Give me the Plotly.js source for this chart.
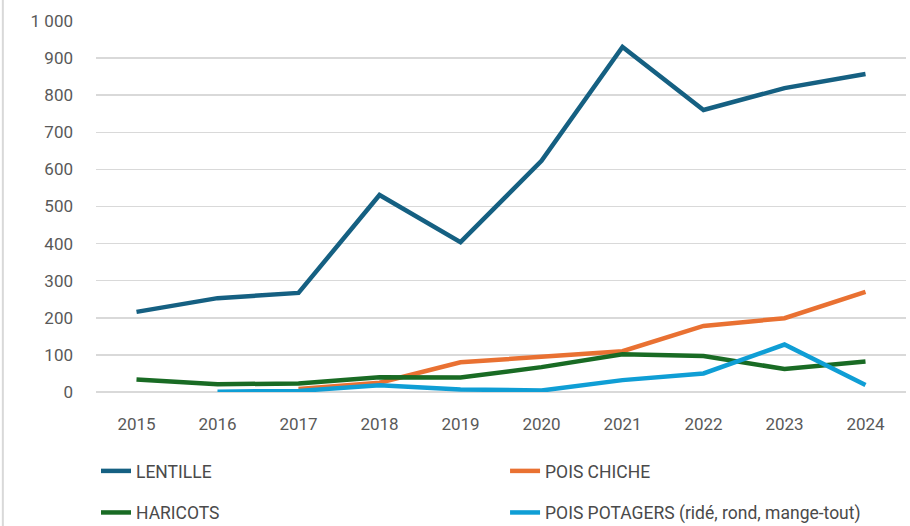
<!DOCTYPE html>
<html>
<head>
<meta charset="utf-8">
<script src="https://cdn.plot.ly/plotly-3.0.1.min.js"></script>
<style>html,body{margin:0;padding:0;background:#fff}#chart{width:910px;height:526px}</style>
</head>
<body>
<div id="chart"></div>
<script>
const years = ["2015","2016","2017","2018","2019","2020","2021","2022","2023","2024"];
const lentille = [216, 253, 267, 531, 404, 623, 930, 760, 819, 857];
const poisChiche = [null, null, 8, 25, 80, 96, 110, 178, 199, 270];
const haricots = [34, 21, 23, 40, 39, 67, 102, 97, 62, 82];
const poisPotagers = [null, 1, 3, 18, 7, 4, 32, 50, 128, 19];
const seriesNames = ["LENTILLE", "POIS CHICHE", "HARICOTS", "POIS POTAGERS (ridé, rond, mange-tout)"];
const yTicks = [0,100,200,300,400,500,600,700,800,900,1000];

const colors = ["#156082", "#E97132", "#196B24", "#0F9ED5"];
const legendIds = ["legend", "legend2", "legend3", "legend4"];
const data = [lentille, poisChiche, haricots, poisPotagers].map((vals, i) => ({
  type: "scatter", mode: "lines",
  x: years, y: vals, name: seriesNames[i], legend: legendIds[i],
  line: {color: colors[i], width: 4.5, shape: "linear"},
  hoverinfo: "skip"
}));

const legendFont = {family: "Roboto, 'Liberation Sans', sans-serif", size: 17.5, color: "#4a4a4a"};
function leg(x, y) {
  return {orientation: "h", x: x, xanchor: "left", y: y, yanchor: "middle",
          font: legendFont, bgcolor: "rgba(0,0,0,0)"};
}
const layout = {
  width: 910, height: 526,
  margin: {l: 96, r: 4, t: 21, b: 134, autoexpand: false},
  paper_bgcolor: "#fff", plot_bgcolor: "#fff",
  separators: ", ",
  font: {family: "Roboto, 'Liberation Sans', sans-serif", color: "#595959"},
  xaxis: {
    type: "category", range: [-0.5, 9.5], automargin: false,
    showgrid: false, showline: false, zeroline: false,
    ticks: "", ticklabelstandoff: 20, tickfont: {size: 17, color: "#595959"},
    fixedrange: true
  },
  yaxis: {
    range: [0, 1000], tickvals: yTicks, separatethousands: true, automargin: false,
    showgrid: true, gridcolor: "#d9d9d9", gridwidth: 1.5,
    zeroline: true, zerolinecolor: "#d9d9d9", zerolinewidth: 1.5,
    showline: false, ticks: "", ticklabelstandoff: 22,
    tickfont: {size: 17, color: "#595959"},
    fixedrange: true
  },
  showlegend: true,
  legend: leg(0.0, -0.213),
  legend2: leg(0.505, -0.213),
  legend3: leg(0.0, -0.325),
  legend4: leg(0.505, -0.325),
  shapes: [{
    type: "line", xref: "paper", yref: "paper",
    x0: -0.115, x1: -0.115, y0: -0.4, y1: 1.06,
    line: {color: "#d9d9d9", width: 2}
  }]
};

Plotly.newPlot("chart", data, layout, {displayModeBar: false, staticPlot: true});
</script>
</body>
</html>
